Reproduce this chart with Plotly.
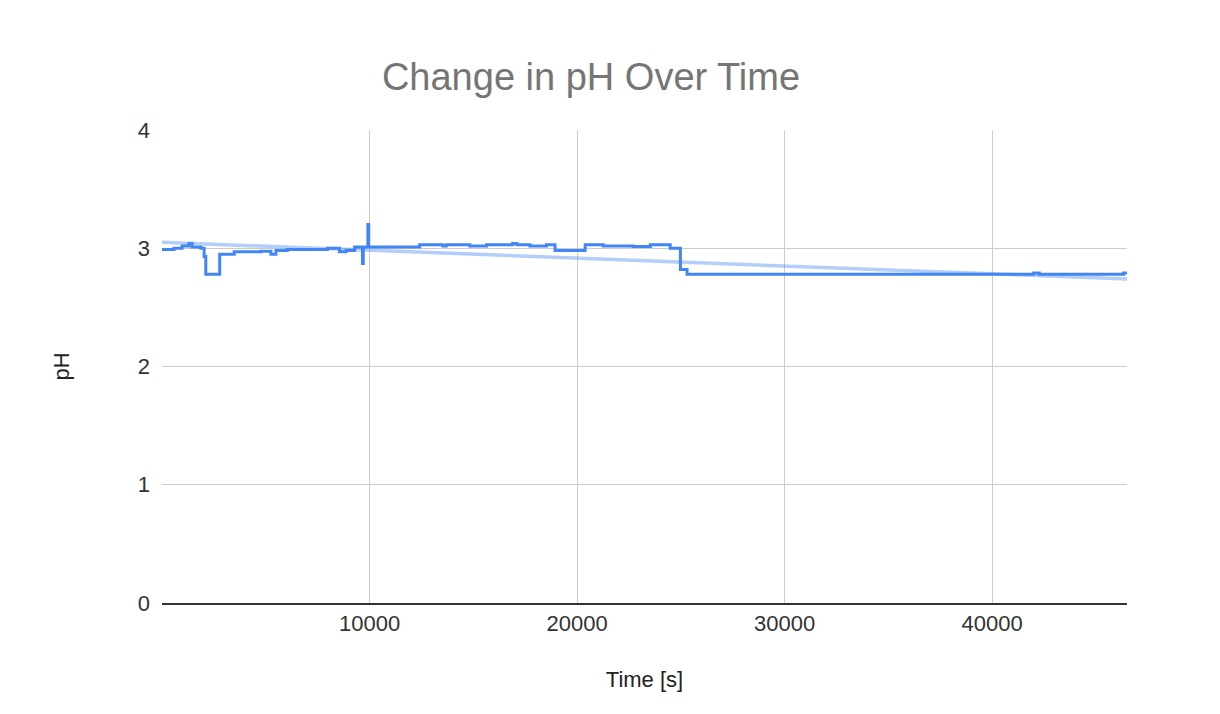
import plotly.graph_objects as go

# Measured pH readings (step-like logger output)
time_s = [0, 580, 970, 1300, 1450, 1870, 2030, 2110, 2780, 3480, 4770, 5250, 5490,
          6040, 7970, 8550, 8870, 9280, 9660, 9700, 9920, 9960, 10000, 12415, 13530,
          13700, 14830, 15640, 16900, 17100, 17730, 18530, 18940, 20390, 21260,
          22700, 23530, 24490, 24980, 25300, 42000, 42270, 46330, 46500]
ph = [2.99, 3.00, 3.02, 3.04, 3.01, 3.00, 2.93, 2.78, 2.95, 2.97, 2.975, 2.95, 2.98,
      2.99, 3.00, 2.97, 2.98, 3.01, 2.87, 3.01, 3.20, 3.01, 3.01, 3.03, 3.02,
      3.03, 3.02, 3.03, 3.04, 3.03, 3.02, 3.03, 2.98, 3.03, 3.02,
      3.015, 3.03, 3.00, 2.82, 2.78, 2.79, 2.78, 2.79, 2.79]

# Linear trendline endpoints
trend_t = [0, 46500]
trend_ph = [3.05, 2.74]

x_ticks = [10000, 20000, 30000, 40000]
y_ticks = [0, 1, 2, 3, 4]

fig = go.Figure()
fig.add_trace(go.Scatter(x=trend_t, y=trend_ph, mode="lines",
                         line=dict(color="rgba(66,133,244,0.4)", width=3.5),
                         hoverinfo="skip", showlegend=False))
fig.add_trace(go.Scatter(x=time_s, y=ph, mode="lines", line_shape="hv",
                         line=dict(color="#4285F4", width=3), showlegend=False))

fig.update_layout(
    width=1220, height=714,
    paper_bgcolor="white", plot_bgcolor="white",
    margin=dict(l=154, r=101, t=122, b=119),
    font=dict(family="Arial", size=22, color="#444444"),
    title=dict(text="Change in pH Over Time", x=583/1220, xref="container", xanchor="center",
               y=1 - 69/714, yref="container", yanchor="middle",
               font=dict(family="Arial", size=38, color="#757575")),
    xaxis=dict(range=[0, 46500], tickvals=x_ticks, ticktext=[str(v) for v in x_ticks],
               showgrid=True, gridcolor="#cccccc", gridwidth=1,
               zeroline=False, showline=True, linecolor="#333333", linewidth=2,
               ticks="", tickfont=dict(size=22, color="#333333"),
               title=dict(text="Time [s]", standoff=36, font=dict(size=22, color="#222222"))),
    yaxis=dict(range=[0, 4], tickvals=y_ticks, showgrid=True, gridcolor="#cccccc", gridwidth=1,
               zeroline=False, showline=False, ticks="", ticklabelstandoff=11,
               tickfont=dict(size=22, color="#333333"),
               title=dict(text="pH", standoff=62, font=dict(size=22, color="#222222"))),
)

fig.write_html("out.html")
